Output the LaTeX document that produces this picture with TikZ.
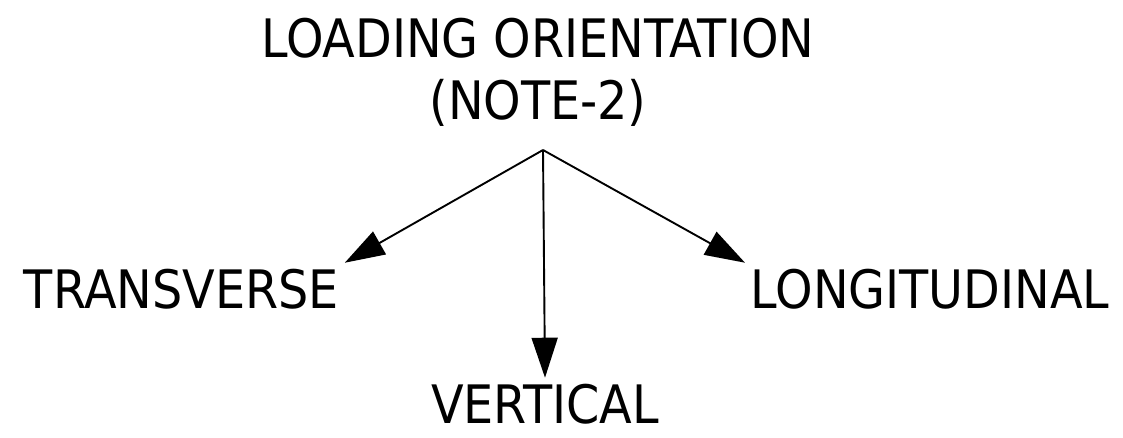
\documentclass[tikz,border=0pt]{standalone}
\usepackage{fontspec}
\setmainfont{DejaVu Sans Condensed}
\usepackage{tikz}
\usetikzlibrary{arrows.meta}

\begin{document}
\begin{tikzpicture}[x=1pt,y=-1pt,line width=1.9pt,
                    >={Triangle[length=40pt,width=26pt]},
                    label node/.style={inner sep=5pt,font=\fontsize{53}{62}\selectfont}]
  \useasboundingbox (0,0) rectangle (1123,437);

  \node[label node,inner sep=0pt,anchor=north,align=center] (title) at (538,17)
    {LOADING ORIENTATION\\(NOTE-2)};
  \coordinate (apex) at (543,150);
  \node[label node,anchor=base west] (trans) at (18,308) {TRANSVERSE};
  \node[label node,anchor=base] (vert) at (545,423) {VERTICAL};
  \node[label node,anchor=base west] (long) at (745,308) {LONGITUDINAL};

  \draw[->] (apex) -- (trans.north east);
  \draw[->] (apex) -- (vert.north);
  \draw[->] (apex) -- (long.north west);
\end{tikzpicture}
\end{document}
